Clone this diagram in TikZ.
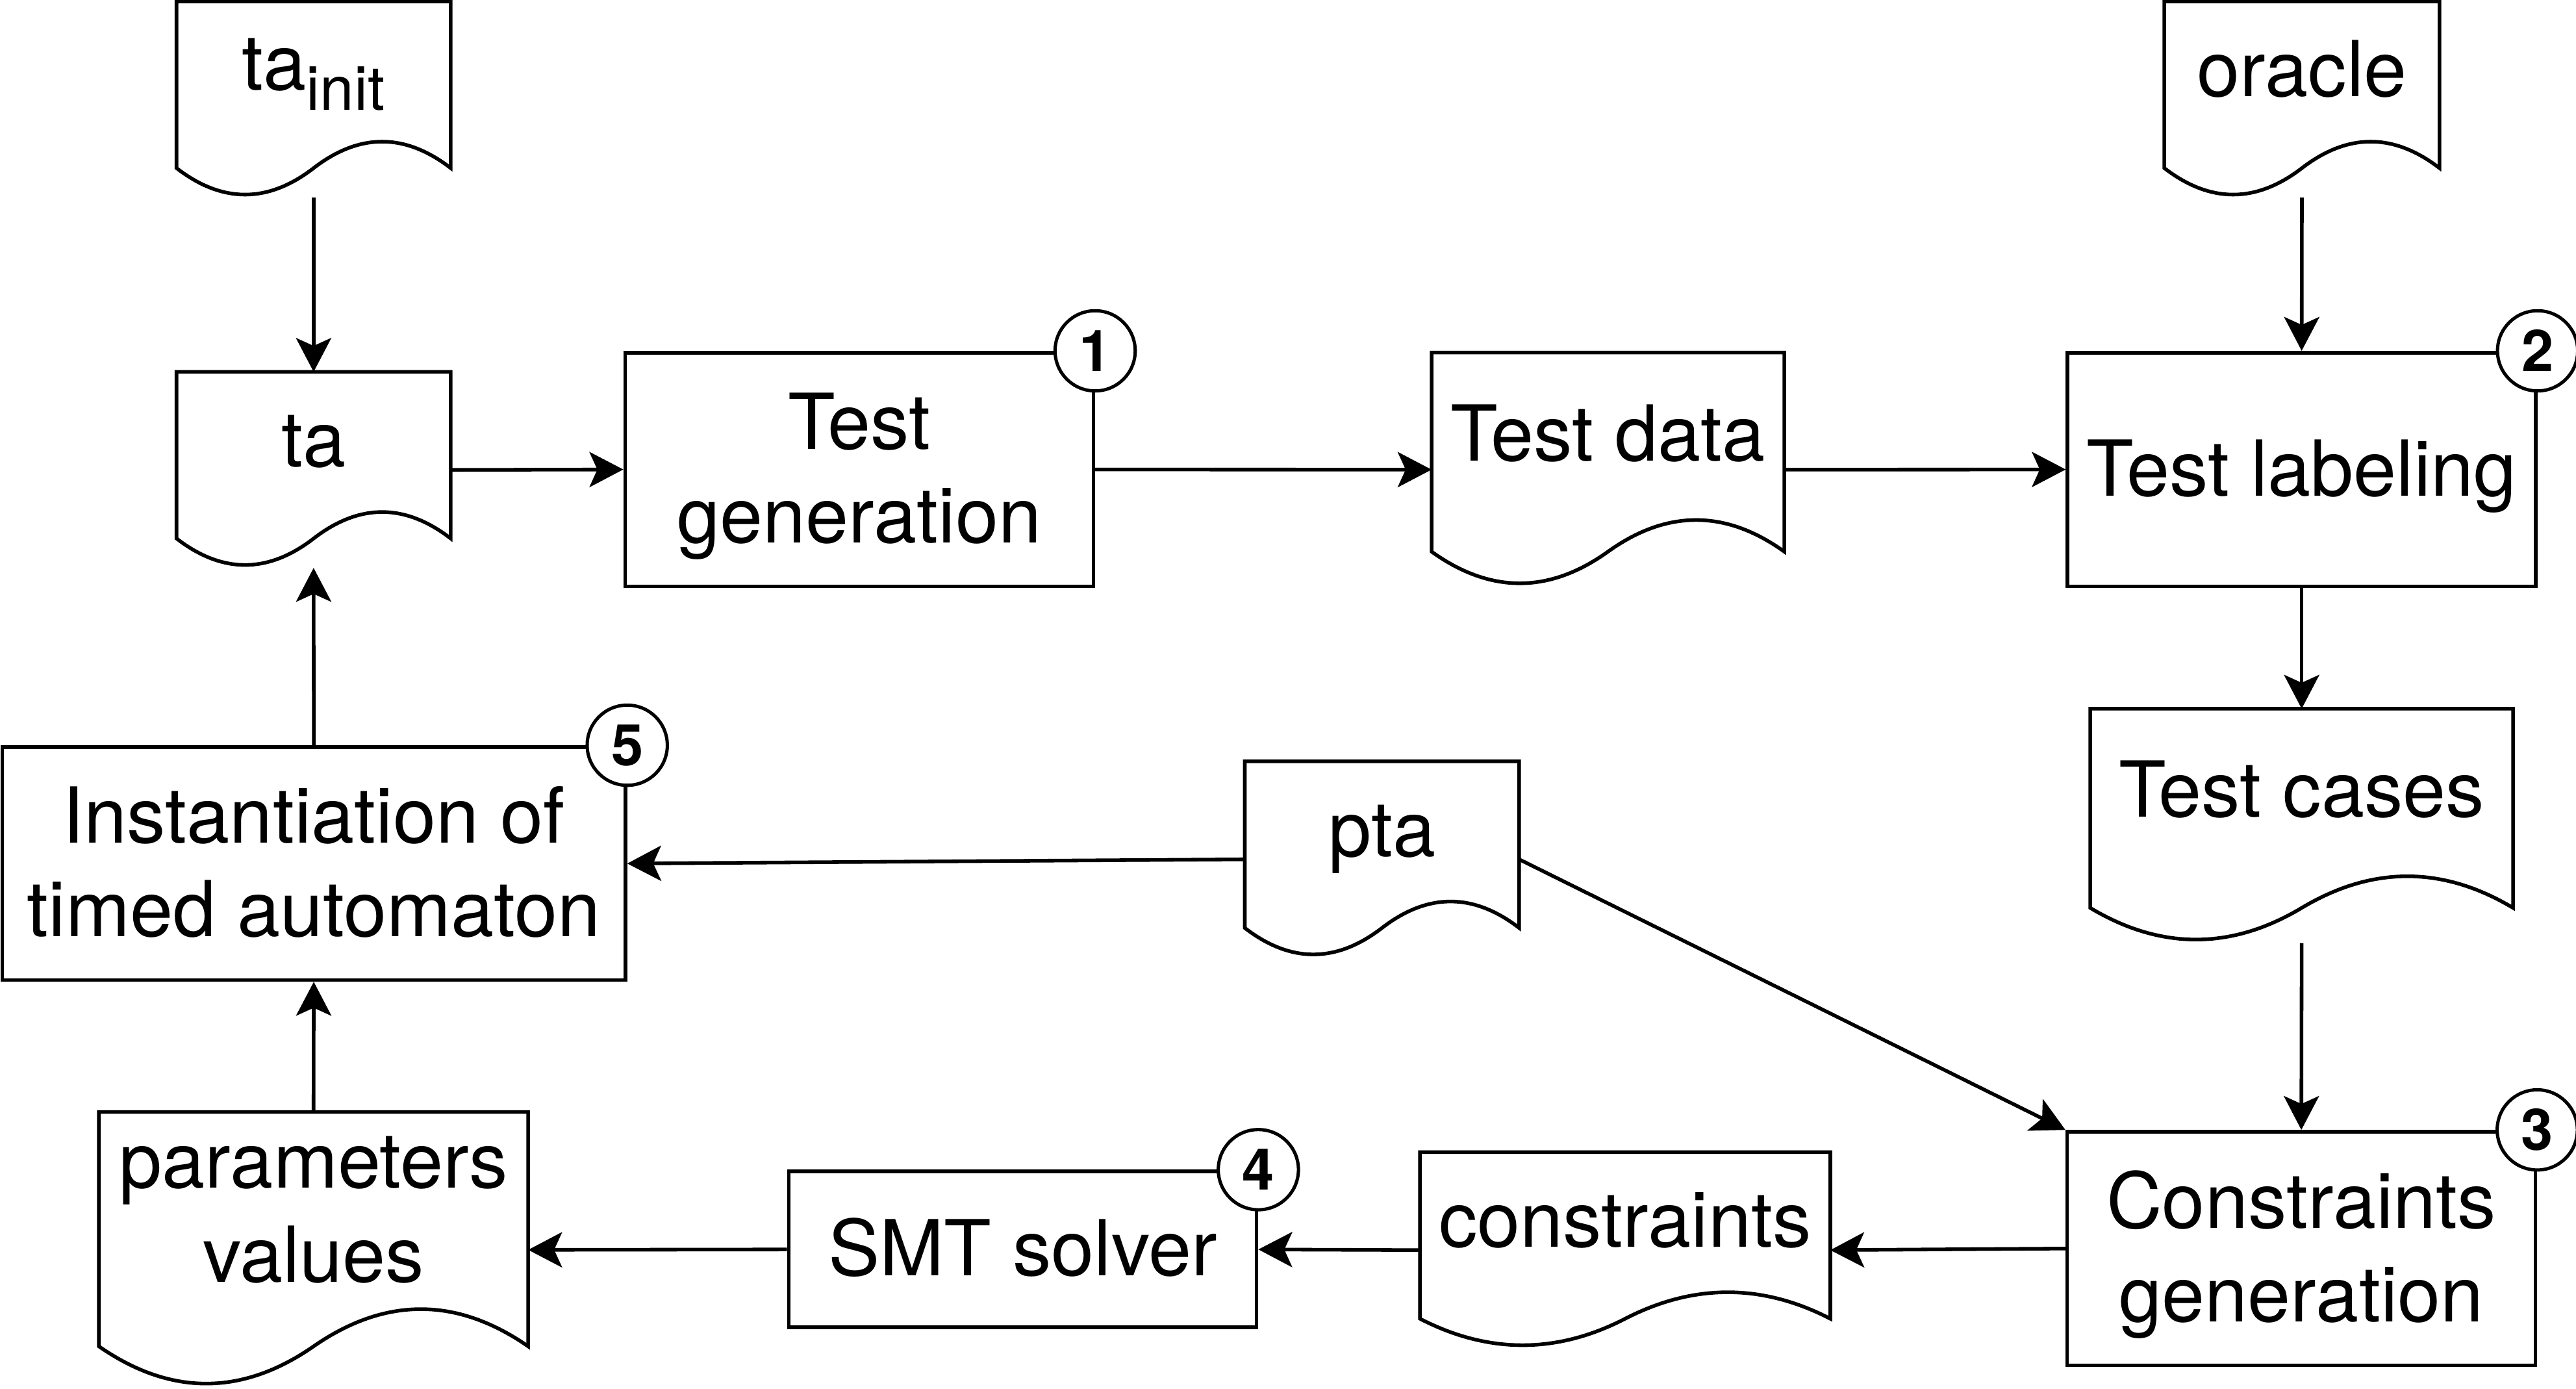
\documentclass[tikz,border=0pt]{standalone}
\usepackage{fontspec}
\setmainfont{TeX Gyre Heros}
\usetikzlibrary{arrows.meta,calc}

% wavy outline of a document node
\newcommand{\docoutline}[1]{%
  \draw[line width=1.1pt] let \p1=(#1.north west), \p2=(#1.south east),
    \n1={\x2-\x1}, \n2={\y1-\y2} in
    (\p1) -- (\x2,\y1) -- (\x2,{\y2+0.15*\n2})
    .. controls ({\x2-\n1/6},{\y2+0.33*\n2}) and ({\x1+2*\n1/3},{\y2+0.33*\n2}) .. ({\x1+\n1/2},{\y2+0.15*\n2})
    .. controls ({\x1+\n1/3},{\y2-0.03*\n2}) and ({\x1+\n1/6},{\y2-0.03*\n2}) .. (\x1,{\y2+0.15*\n2})
    -- cycle;}

\begin{document}
\begin{tikzpicture}[x=0.5pt, y=-0.5pt,
    every node/.style={font=\fontsize{23.5}{28.5}\selectfont, align=center,
      inner sep=0pt, text height=16pt, text depth=0pt},
    two lines/.style={text height=44.5pt},
    box/.style 2 args={draw, line width=1.1pt, minimum width=#1, minimum height=#2},
    doc/.style n args={4}{minimum width=#1, minimum height=#2,
      label={[yshift=0.15*#2,#4]center:#3}},
    num/.style={circle, draw, fill=white, line width=1pt, minimum size=24.4pt,
      font=\fontsize{17.5}{17.5}\selectfont\bfseries, text height=12.3pt},
    arr/.style={-{Stealth[length=10.3pt, width=10.7pt, inset=2.4pt]}, line width=1.1pt}]

    \useasboundingbox (0,0) rectangle (1568,845);

    % Documents
    \node[doc={83.05pt}{59.25pt}{\raisebox{2pt}{ta\raisebox{-0.26em}{\fontsize{18.7}{18.7}\selectfont init}}}{}] (tainit) at (190.9,60.55) {};
    \node[doc={83.05pt}{59.25pt}{ta}{}] (ta) at (190.9,285.95) {};
    \node[doc={106.95pt}{70.9pt}{Test data}{}] (td) at (978.75,285.8) {};
    \node[doc={83.35pt}{59.25pt}{oracle}{}] (oracle) at (1401.15,60.55) {};
    \node[doc={128.3pt}{70.9pt}{Test cases}{}] (tc) at (1401,502.6) {};
    \node[doc={83.1pt}{59.25pt}{pta}{}] (pta) at (841.2,522.95) {};
    \node[doc={124.5pt}{59.25pt}{constraints}{}] (cons) at (989.2,760.75) {};
    \node[doc={130.25pt}{83.5pt}{parameters\\values}{two lines}] (par) at (190.85,760.6) {};
    \foreach \d in {tainit,ta,td,oracle,tc,pta,cons,par}
      \docoutline{\d};

    % Processes
    \node[box={142.5pt}{71.1pt}, two lines] (tg) at (523,285.7) {Test\\generation};
    \node[box={142.5pt}{71.1pt}] (tl) at (1401,285.7) {Test labeling};
    \node[box={142.5pt}{71.1pt}, two lines] (cg) at (1400.8,759.8) {Constraints\\generation};
    \node[box={142.35pt}{47.45pt}] (smt) at (622.5,760.35) {SMT solver};
    \node[box={189.7pt}{70.9pt}, two lines] (inst) at (191,525.5) {Instantiation of\\timed automaton};

    % Step numbers
    \node[num] (n1) at (tg.north east) {1};
    \node[num] (n2) at (tl.north east) {2};
    \node[num] (n3) at (cg.north east) {3};
    \node[num] (n4) at (smt.north east) {4};
    \node[num] (n5) at (inst.north east) {5};

    % Flow
    \draw[arr] (tainit.south) -- (ta.north);
    \draw[arr] (ta.east) -- (tg.west);
    \draw[arr] (tg.east) -- (td.west);
    \draw[arr] (td.east) -- (tl.west);
    \draw[arr] (oracle.south) -- (tl.north);
    \draw[arr] (tl.south) -- (tc.north);
    \draw[arr] (tc.south) -- (cg.north);
    \draw[arr] (pta.east) -- (cg.north west);
    \draw[arr] (pta.west) -- (inst.east);
    \draw[arr] (cg.west) -- (cons.east);
    \draw[arr] (cons.west) -- (smt.east);
    \draw[arr] (smt.west) -- (par.east);
    \draw[arr] (par.north) -- (inst.south);
    \draw[arr] (inst.north) -- (ta.south);
\end{tikzpicture}
\end{document}
